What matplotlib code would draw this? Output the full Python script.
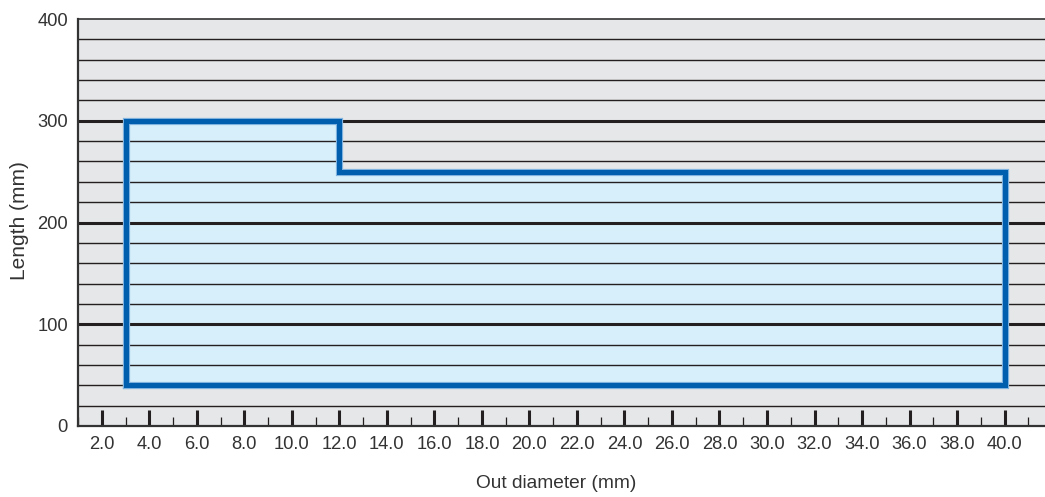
import matplotlib
matplotlib.use("Agg")
import matplotlib.pyplot as plt
import numpy as np

plt.rcParams['font.family'] = ['Liberation Sans', 'DejaVu Sans']

# Data
diameter_edges = [3.0, 12.0, 40.0]      # mm, boundaries of ranges
max_length = [300, 250]                 # mm, max length per range
min_length = 40                         # mm
x_major = np.arange(2, 41, 2)
x_labels = [f"{v:.1f}" for v in x_major]
y_ticks = [0, 100, 200, 300, 400]

fig = plt.figure(figsize=(10.45, 4.97), dpi=100)
ax = fig.add_axes([78/1045, 1-426/497, 1-78/1045, (426-19)/497])
ax.set_facecolor('#E6E7E8')
ax.set_xlim(1.0, 41.7)
ax.set_ylim(0, 400)

# outline coordinates from data
xs = [diameter_edges[0]]
ys = [min_length]
for i in range(len(max_length)):
    xs += [diameter_edges[i], diameter_edges[i+1]]
    ys += [max_length[i], max_length[i]]
xs += [diameter_edges[-1], diameter_edges[0]]
ys += [min_length, min_length]

ax.fill(xs, ys, color='#D7EFFB', zorder=1, lw=0)

# grid lines
for yv in range(20, 400, 20):
    if yv % 100 == 0:
        ax.axhline(yv, color='#231F20', lw=2.2, zorder=2)
    else:
        ax.axhline(yv, color='#231F20', lw=1.0, zorder=2)

ax.plot(xs, ys, color='#7FB2DE', lw=5.2, zorder=3, solid_joinstyle='miter')
ax.plot(xs, ys, color='#005EAE', lw=3.6, zorder=4, solid_joinstyle='miter')

# ticks
ax.set_xticks(x_major)
ax.set_xticklabels(x_labels)
ax.set_xticks(np.arange(1, 42, 2), minor=True)
ax.tick_params(axis='x', which='major', direction='in', length=11.5, width=2.2,
               color='#231F20', labelsize=13.2, pad=7.5, labelcolor='#333333')
ax.tick_params(axis='x', which='minor', direction='in', length=6.5, width=0.9,
               color='#231F20')
ax.set_yticks(y_ticks)
ax.tick_params(axis='y', length=0, labelsize=13.2, pad=7.2, labelcolor='#333333')

for s in ['left', 'bottom', 'top']:
    ax.spines[s].set_color('#333333')
ax.spines['left'].set_linewidth(1.6)
ax.spines['bottom'].set_linewidth(1.6)
ax.spines['top'].set_linewidth(1.2)
ax.spines['right'].set_visible(False)

fig.text(20/1045, 1-221/497, 'Length (mm)', rotation=90, ha='center', va='center',
         fontsize=15, color='#333333')
fig.text(556/1045, 1-484/497, 'Out diameter (mm)', ha='center', va='center',
         fontsize=13.8, color='#333333')

fig.savefig('out.png', dpi=100)
